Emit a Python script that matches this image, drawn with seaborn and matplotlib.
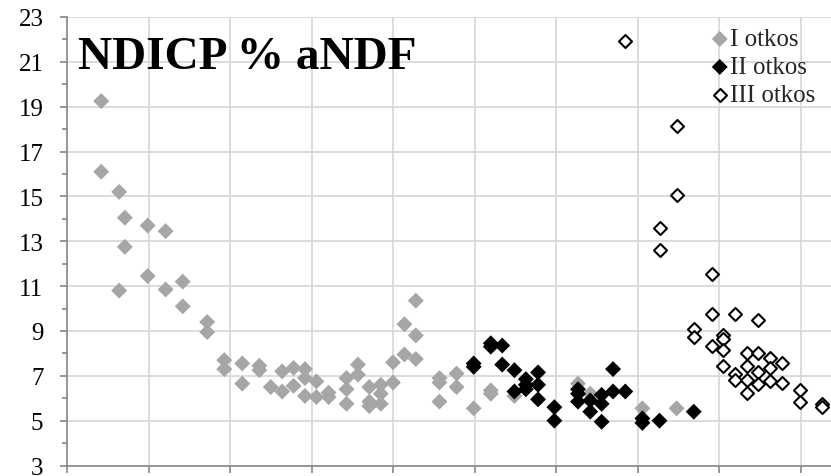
import matplotlib
matplotlib.use("Agg")
import matplotlib.pyplot as plt
import seaborn as sns
import pandas as pd
from matplotlib.ticker import MultipleLocator

# ---- data ----
x_I = [4.2, 4.2, 6.4, 7.1, 9.9, 12.1, 7.1, 6.4, 9.9, 12.1, 14.2, 14.2, 17.2, 17.2,
       19.3, 19.3, 21.5, 21.5, 23.6, 23.6, 25.0, 26.4, 26.4, 27.8, 27.8, 29.2, 29.2,
       29.2, 30.6, 30.6, 32.1, 32.1, 34.3, 34.3, 34.3, 35.7, 35.7, 37.1, 37.1, 37.1,
       38.5, 38.5, 38.5, 40.0, 40.0, 41.4, 41.4, 42.8, 42.8, 42.8, 45.7, 45.7, 45.7,
       47.8, 47.8, 49.9, 52.0, 52.0, 54.9, 62.7, 64.2, 70.6, 74.8]
y_I = [19.25, 16.1, 15.2, 14.05, 13.7, 13.45, 12.75, 10.8, 11.45, 10.85, 11.2, 10.1, 9.4, 8.95,
       7.7, 7.3, 7.55, 6.65, 7.45, 7.25, 6.5, 7.2, 6.3, 7.35, 6.55, 7.3, 6.9,
       6.1, 6.75, 6.05, 6.25, 6.05, 6.9, 6.4, 5.75, 7.5, 7.05, 6.5, 5.85, 5.65,
       6.6, 6.2, 5.75, 7.6, 6.7, 9.3, 7.95, 10.35, 8.8, 7.75, 6.9, 6.7, 5.85,
       7.1, 6.5, 5.55, 6.35, 6.2, 6.1, 6.65, 6.2, 5.55, 5.55]

x_II = [49.9, 49.9, 52.0, 52.0, 53.4, 53.4, 54.9, 54.9, 56.3, 56.3, 56.3, 57.8, 57.8, 57.8,
        59.8, 59.8, 62.7, 62.7, 62.7, 64.2, 64.2, 65.6, 65.6, 65.6, 67.0, 67.0, 68.5,
        70.6, 70.6, 72.7, 76.9]
y_II = [7.55, 7.4, 8.45, 8.3, 8.35, 7.5, 7.25, 6.3, 6.85, 6.6, 6.4, 7.15, 6.6, 5.95,
        5.6, 5.0, 6.4, 6.2, 5.85, 5.9, 5.4, 6.15, 5.75, 4.95, 7.3, 6.3, 6.3,
        5.1, 4.9, 5.0, 5.4]

x_III = [68.5, 74.8, 74.8, 72.7, 72.7, 79.1, 79.1, 82.0, 84.8, 76.9, 76.9, 79.1, 80.5, 80.5,
         80.5, 80.5, 82.0, 82.0, 83.4, 83.4, 83.4, 83.4, 84.8, 84.8, 84.8, 86.3, 86.3, 86.3,
         87.7, 87.7, 89.9, 89.9, 92.6, 92.6]
y_III = [21.95, 18.15, 15.05, 13.6, 12.6, 11.55, 9.75, 9.75, 9.5, 9.1, 8.75, 8.35, 8.8, 8.65,
         8.15, 7.45, 7.1, 6.8, 8.0, 7.45, 6.8, 6.25, 8.0, 7.15, 6.65, 7.8, 7.35, 6.75,
         7.55, 6.7, 6.35, 5.85, 5.75, 5.6]

series_names = ["I otkos", "II otkos", "III otkos"]
y_ticks = list(range(3, 24, 2))

# ---- figure ----
sns.set_theme(style="white")
plt.rcParams["font.family"] = ["Liberation Serif", "DejaVu Serif"]

W, H = 831, 477
fig = plt.figure(figsize=(W / 100, H / 100), dpi=100)
ax_left, ax_right, ax_top, ax_bottom = 67, 831, 18, 466.5
ax = fig.add_axes([ax_left / W, (H - ax_bottom) / H, (ax_right - ax_left) / W, (ax_bottom - ax_top) / H])

df_I = pd.DataFrame({"x": x_I, "y": y_I})
df_II = pd.DataFrame({"x": x_II, "y": y_II})
df_III = pd.DataFrame({"x": x_III, "y": y_III})

msize = 66
sns.scatterplot(data=df_I, x="x", y="y", ax=ax, marker="D", s=msize, color="#a6a6a6",
                edgecolor="none", linewidth=0, label=series_names[0], zorder=3)
sns.scatterplot(data=df_II, x="x", y="y", ax=ax, marker="D", s=msize, color="black",
                edgecolor="none", linewidth=0, label=series_names[1], zorder=4)
sns.scatterplot(data=df_III, x="x", y="y", ax=ax, marker="D", s=44, facecolor="white",
                edgecolor="black", linewidth=1.5, label=series_names[2], zorder=5)

ax.set_xlim(0, (ax_right - ax_left) / 8.15)
ax.set_ylim(3, 23)
ax.set_yticks(y_ticks)
ax.yaxis.set_minor_locator(MultipleLocator(1))
ax.xaxis.set_major_locator(MultipleLocator(10))
ax.set_xticklabels([])
ax.set_xlabel("")
ax.set_ylabel("")

ax.grid(True, which="major", color="#d9d9d9", linewidth=1.3, zorder=0)
ax.set_axisbelow(True)
for s in ["top", "right"]:
    ax.spines[s].set_visible(False)
for s in ["left", "bottom"]:
    ax.spines[s].set_color("#868686")
    ax.spines[s].set_linewidth(1.2)

ax.tick_params(axis="y", which="major", direction="out", length=5, width=1.2, color="#868686",
               labelsize=18, pad=12, left=True, labelcolor="black")
ax.tick_params(axis="y", which="minor", direction="out", length=3.5, width=1.2, color="#868686", left=True)
ax.tick_params(axis="x", which="major", direction="out", length=5, width=1.2, color="#868686", bottom=True)
ax.tick_params(axis="x", which="minor", bottom=False)

fig.text(78 / W, 1 - 69 / H, "NDICP % aNDF", fontsize=34, fontweight="bold", color="black",
         va="baseline", ha="left")

leg = ax.legend(loc="upper left", bbox_to_anchor=(711 / W, 1 - 29 / H), bbox_transform=fig.transFigure,
                frameon=False, fontsize=18, handlelength=0.7, handletextpad=0.05, labelspacing=0.22,
                borderpad=0, borderaxespad=0, markerscale=1.0)

fig.savefig("out.png", dpi=100)
